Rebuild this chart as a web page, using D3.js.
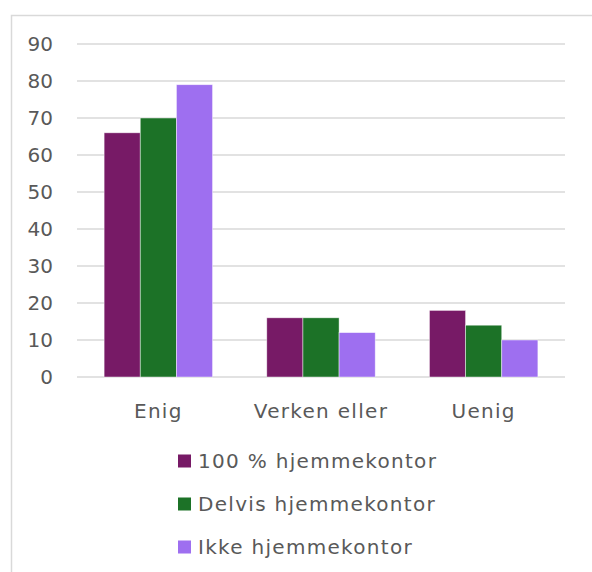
<!DOCTYPE html>
<html>
<head>
<meta charset="utf-8">
<script src="https://cdn.jsdelivr.net/npm/d3@7"></script>
<style>
  body { margin: 0; background: #fff; }
  text { font-family: "Century Gothic", "DejaVu Sans", sans-serif; fill: #595959; }
</style>
</head>
<body>
<script>
// data
let categories = ["Enig", "Verken eller", "Uenig"];
let seriesNames = ["100 % hjemmekontor", "Delvis hjemmekontor", "Ikke hjemmekontor"];
let seriesColors = ["#771a66", "#1c7227", "#9e6ff0"];
let hundred = [66, 16, 18];
let delvis = [70, 16, 14];
let ikke = [79, 12, 10];
let yTicks = [0, 10, 20, 30, 40, 50, 60, 70, 80, 90];

let seriesValues = [hundred, delvis, ikke];

let width = 592, height = 572;
let svg = d3.select("body").append("svg")
  .attr("width", width)
  .attr("height", height);

// chart frame
svg.append("rect")
  .attr("x", 11.5).attr("y", 15.5)
  .attr("width", 600).attr("height", 600)
  .attr("fill", "none")
  .attr("stroke", "#d9d9d9")
  .attr("stroke-width", 1.5);

let plot = { left: 77, right: 565, top: 44, bottom: 377 };

let x = d3.scaleBand()
  .domain(categories)
  .range([plot.left, plot.right])
  .paddingInner(0.3333)
  .paddingOuter(0.1667);

let xSub = d3.scaleBand()
  .domain(d3.range(seriesNames.length))
  .range([0, x.bandwidth()]);

let y = d3.scaleLinear()
  .domain([0, 90])
  .range([plot.bottom, plot.top]);

// gridlines
svg.append("g")
  .selectAll("line")
  .data(yTicks)
  .enter()
  .append("line")
  .attr("x1", plot.left)
  .attr("x2", plot.right)
  .attr("y1", d => y(d))
  .attr("y2", d => y(d))
  .attr("stroke", "#d9d9d9")
  .attr("stroke-width", 1.5);

// y axis labels
svg.append("g")
  .selectAll("text")
  .data(yTicks)
  .enter()
  .append("text")
  .attr("x", 53)
  .attr("y", d => y(d))
  .attr("dy", "0.36em")
  .attr("text-anchor", "end")
  .style("font-size", "20px")
  .text(d => d);

// bars
seriesValues.forEach(function(vals, s) {
  svg.append("g")
    .selectAll("rect")
    .data(vals)
    .enter()
    .append("rect")
    .attr("x", (d, i) => x(categories[i]) + xSub(s))
    .attr("y", d => y(d))
    .attr("width", xSub.bandwidth())
    .attr("height", d => y(0) - y(d))
    .attr("fill", seriesColors[s])
    .attr("stroke", "#ffffff")
    .attr("stroke-opacity", 0.6)
    .attr("stroke-width", 0.75);
});

// category labels
svg.append("g")
  .selectAll("text")
  .data(categories)
  .enter()
  .append("text")
  .attr("x", d => x(d) + x.bandwidth() / 2)
  .attr("y", 418)
  .attr("text-anchor", "middle")
  .style("font-size", "20px")
  .style("letter-spacing", "1.3px")
  .text(d => d);

// legend
let legend = svg.append("g")
  .selectAll("g")
  .data(seriesNames)
  .enter()
  .append("g")
  .attr("transform", (d, i) => "translate(178," + (461 + i * 43) + ")");

legend.append("rect")
  .attr("x", 0).attr("y", -6.5)
  .attr("width", 13).attr("height", 13)
  .attr("fill", (d, i) => seriesColors[i]);

legend.append("text")
  .attr("x", 20)
  .attr("y", 0)
  .attr("dy", "0.36em")
  .style("font-size", "20px")
  .style("letter-spacing", "1.3px")
  .text(d => d);
</script>
</body>
</html>
